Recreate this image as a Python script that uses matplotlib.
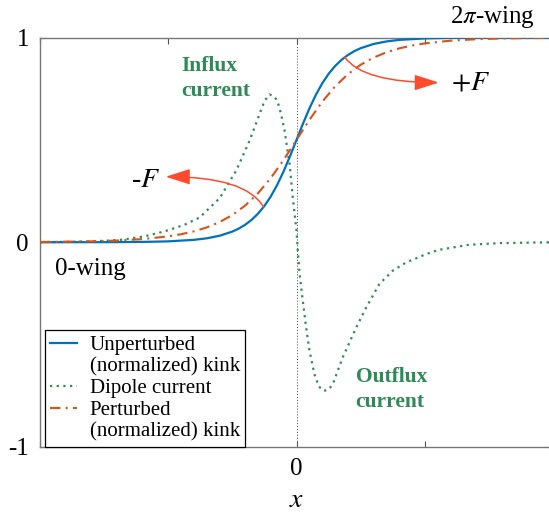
import matplotlib
matplotlib.use("Agg")
import matplotlib.pyplot as plt
from matplotlib.lines import Line2D

plt.rcParams["font.family"] = "serif"
plt.rcParams["font.serif"] = ["Liberation Serif", "DejaVu Serif"]
plt.rcParams["mathtext.fontset"] = "stix"

# Unperturbed kink (normalized to 0..1)
kink_x = [-2.0, -1.5, -1.2, -1.0, -0.8, -0.7, -0.6, -0.5, -0.45, -0.4, -0.35, -0.3, -0.25,
          -0.2, -0.15, -0.1, -0.05, 0.0, 0.05, 0.1, 0.15, 0.2, 0.25, 0.3, 0.35, 0.4, 0.45,
          0.5, 0.6, 0.7, 0.8, 1.0, 1.2, 1.5, 2.0]
kink_y = [0.0, 0.0004, 0.0016, 0.0043, 0.0117, 0.0192, 0.0317, 0.0521, 0.0668, 0.0856,
          0.1095, 0.1398, 0.1776, 0.2244, 0.2810, 0.3471, 0.4214, 0.5, 0.5786, 0.6529,
          0.7190, 0.7756, 0.8224, 0.8602, 0.8905, 0.9144, 0.9332, 0.9479, 0.9683, 0.9808,
          0.9883, 0.9957, 0.9984, 0.9996, 1.0]

# Dipole current
dip_x = [-2.0, -1.7, -1.5, -1.37, -1.19, -1.03, -0.875, -0.755, -0.6, -0.47, -0.366, -0.288,
         -0.25, -0.21, -0.17, -0.146, -0.12, -0.093, -0.054, -0.029, 0.0, 0.01, 0.023, 0.049,
         0.075, 0.101, 0.14, 0.175, 0.213, 0.25, 0.283, 0.36, 0.465, 0.543, 0.646, 0.75,
         0.854, 1.01, 1.11, 1.35, 1.6, 2.0]
dip_y = [0.0, 0.003, 0.007, 0.012, 0.028, 0.053, 0.085, 0.121, 0.215, 0.35, 0.496, 0.627,
         0.69, 0.722, 0.71, 0.684, 0.625, 0.545, 0.382, 0.219, 0.056, -0.04, -0.148, -0.286,
         -0.417, -0.53, -0.645, -0.705, -0.726, -0.72, -0.693, -0.563, -0.417, -0.319,
         -0.204, -0.139, -0.099, -0.058, -0.037, -0.012, -0.004, 0.0]

# Perturbed kink (normalized)
pert_x = [-2.0, -1.6, -1.4, -1.2, -1.0, -0.9, -0.8, -0.7, -0.6, -0.5, -0.4, -0.3, -0.2, -0.1,
          0.0, 0.1, 0.2, 0.3, 0.4, 0.5, 0.6, 0.7, 0.8, 0.9, 1.0, 1.2, 1.4, 1.6, 2.0]
pert_y = [0.0013, 0.0045, 0.0083, 0.0154, 0.0287, 0.0391, 0.0532, 0.0724, 0.0984, 0.1331,
          0.1794, 0.2394, 0.3142, 0.4028, 0.5, 0.5972, 0.6858, 0.7606, 0.8206, 0.8669,
          0.9016, 0.9276, 0.9468, 0.9609, 0.9713, 0.9846, 0.9917, 0.9955, 0.9987]

legend_labels = ["Unperturbed", "(normalized) kink", "Dipole current", "Perturbed",
                 "(normalized) kink"]

BLUE = "#0072BD"
ORANGE = "#D95319"
GREEN = "#2E8B57"
RED = "#FF4A2E"

fig = plt.figure(figsize=(5.49, 5.14), dpi=100)
ax = fig.add_axes([0.0729, 0.1304, 0.9344, 0.7966])

ax.axvline(0, color="#444444", ls=(0, (1, 2)), lw=0.7, zorder=1)
l1, = ax.plot(kink_x, kink_y, color=BLUE, lw=1.6, zorder=3)
l2, = ax.plot(dip_x, dip_y, color=GREEN, lw=1.6, ls=(0, (1, 2.0)), zorder=2)
l3, = ax.plot(pert_x, pert_y, color=ORANGE, lw=1.5, ls=(0, (5, 2.5, 1, 2.5)), zorder=3)

ax.set_xlim(-2, 2)
ax.set_ylim(-1, 1)
ax.set_xticks([-2, -1, 0, 1, 2])
ax.set_xticklabels(["", "", "0", "", ""])
ax.set_yticks([-1, 0, 1])
ax.set_yticklabels(["-1", "0", "1"])
ax.tick_params(direction="in", top=True, right=True, length=4, width=0.8,
               colors="#555555", labelcolor="black", labelsize=18, pad=8)
for s in ax.spines.values():
    s.set_color("#777777")
    s.set_linewidth(1.0)
ax.set_xlabel("$x$", fontsize=20, labelpad=6)

# force arrows
arrow_kw = dict(arrowstyle="-|>,head_length=1.0,head_width=0.32", color=RED, lw=1.1,
                mutation_scale=15, shrinkA=0, shrinkB=0)
ax.annotate("", xy=(1.11, 0.78), xytext=(0.375, 0.905),
            arrowprops=dict(connectionstyle="angle3,angleA=-55,angleB=0", **arrow_kw))
ax.annotate("", xy=(-1.02, 0.32), xytext=(-0.257, 0.172),
            arrowprops=dict(connectionstyle="angle3,angleA=120,angleB=0", **arrow_kw))

ax.text(1.36, 0.78, "$+F$", fontsize=20, ha="center", va="center")
ax.text(-1.18, 0.30, "-$F$", fontsize=20, ha="center", va="center")
ax.text(1.53, 1.098, r"2$\pi$-wing", fontsize=18, ha="center", va="center", clip_on=False)
ax.text(-1.61, -0.13, "0-wing", fontsize=18, ha="center", va="center")

ax.text(-0.9, 0.80, "Influx\ncurrent", fontsize=15.5, fontweight="bold", color=GREEN,
        ha="left", va="center", linespacing=1.35)
ax.text(0.46, -0.72, "Outflux\ncurrent", fontsize=15.5, fontweight="bold", color=GREEN,
        ha="left", va="center", linespacing=1.35)

blank = Line2D([], [], color="none")
leg = ax.legend([l1, blank, l2, l3, blank], legend_labels, loc="lower left",
                bbox_to_anchor=(0.0097, 0.0), borderaxespad=0, fontsize=15,
                labelspacing=0.1, handlelength=1.3, handletextpad=0.6, borderpad=0.25,
                fancybox=False, framealpha=1, edgecolor="black")
leg.get_frame().set_linewidth(0.9)

fig.savefig("out.png", dpi=100)
